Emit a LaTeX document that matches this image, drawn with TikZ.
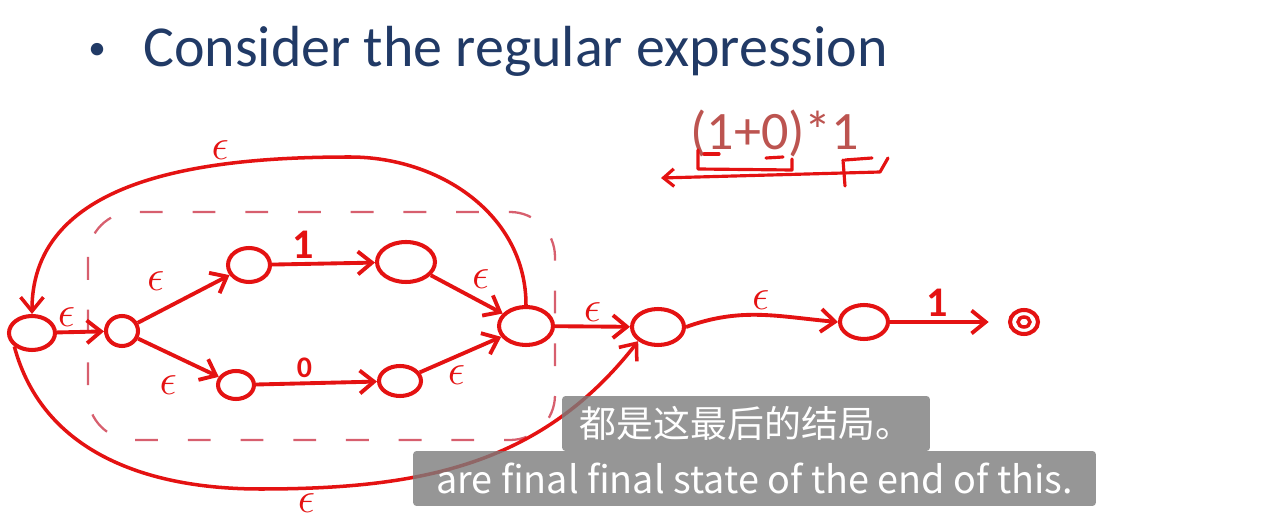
\documentclass[tikz,border=0pt]{standalone}
\usepackage{fontspec}
\setmainfont{Carlito}
\newfontfamily\cjk{Noto Sans CJK SC}
\usetikzlibrary{shapes.geometric, arrows.meta, positioning}
\definecolor{pen}{RGB}{228,18,18}
\definecolor{penlight}{RGB}{215,95,110}
\definecolor{slideblue}{RGB}{33,58,102}
\definecolor{regexred}{RGB}{188,84,80}
\definecolor{subgray}{RGB}{124,124,124}
\tikzset{
    state/.style={draw=pen, ellipse, line width=2.3pt, inner sep=0pt},
    arrow/.style={-{Straight Barb[length=8pt,width=13pt]}, line width=2.2pt, draw=pen},
    backedge/.style={arrow, line width=2pt},
    lbl/.style={text=pen, font=\fontsize{24}{24}\selectfont\bfseries, inner sep=2pt},
    dashbox/.style={draw=penlight, line width=1.3pt, dash pattern=on 13pt off 17pt, rounded corners=0.9cm},
    scribble/.style={draw=pen, line width=1.8pt, line cap=round, line join=round},
    subtitle/.style={fill=subgray, fill opacity=0.8, text opacity=1, rounded corners=2pt, text=white, inner sep=0pt}
}

\begin{document}
\begin{tikzpicture}[x=0.02cm, y=-0.02cm]
        \useasboundingbox (0,0) rectangle (1268,523);

        % Titolo della slide
        \node (bullet) [text=slideblue, font=\fontsize{20}{20}\selectfont] at (97,51) {\textbullet};
        \node (title) [anchor=base west, inner sep=0pt, text=slideblue, font=\fontsize{33}{36}\selectfont] at (143,67) {Consider the regular expression};
        \node (regex) [anchor=base west, inner sep=0pt, text=regexred, font=\fontsize{30.8}{34}\selectfont] at (690,150) {(1+0)*1};

        % Sottolineature a mano sotto l'espressione
        \draw [scribble] (704,154) -- (719,154);
        \draw [scribble] (766,158) -- (783,157);
        \draw [scribble] (698,150) -- (698,169) -- (792,170) -- (792,159);
        \draw [scribble] (843,160) -- (845,186);
        \draw [scribble] (845,160) -- (872,158);
        \draw [scribble, -{Straight Barb[length=6pt,width=10pt]}] (888,158) -- (880,172) -- (661,178);

        % Riquadro tratteggiato intorno a (1+0)*
        \draw [dashbox] (88,212) rectangle (555,440);

        % Stati
        \node (s0) [state, minimum width=0.92cm, minimum height=0.68cm] at (32,333) {};
        \node (s1) [state, minimum width=0.64cm, minimum height=0.60cm] at (122,331) {};
        \node (s2) [state, minimum width=0.84cm, minimum height=0.68cm] at (249,265) {};
        \node (s3) [state, minimum width=1.16cm, minimum height=0.80cm] at (406,262) {};
        \node (s4) [state, minimum width=0.72cm, minimum height=0.56cm] at (236,385) {};
        \node (s5) [state, minimum width=0.84cm, minimum height=0.60cm] at (400,381) {};
        \node (s6) [state, minimum width=1.08cm, minimum height=0.76cm] at (526,326) {};
        \node (s7) [state, minimum width=1.04cm, minimum height=0.72cm] at (658,327) {};
        \node (s8) [state, minimum width=0.96cm, minimum height=0.68cm] at (864,322) {};
        \node (fin) [state, minimum width=0.56cm, minimum height=0.48cm, right=2.36cm of s8] {};
        \node (fin-in) [state, minimum width=0.24cm, minimum height=0.2cm, line width=2pt] at (fin.center) {};

        % Transizioni
        \draw [arrow] (s0) -- node [lbl, above, pos=0.2] {$\epsilon$} (s1);
        \draw [arrow] (s1) -- node [lbl, above left, pos=0.35, yshift=6pt] {$\epsilon$} (s2);
        \draw [arrow] (s1) -- node [lbl, below left, pos=0.55, yshift=-6pt] {$\epsilon$} (s4);
        \draw [arrow] (s2) -- node [lbl, above, pos=0.3] {1} (s3);
        \draw [arrow] (s4) -- node [lbl, above, pos=0.4, font=\fontsize{17}{17}\selectfont\bfseries] {0} (s5);
        \draw [arrow] (s3) -- node [lbl, above right, pos=0.5] {$\epsilon$} (s6);
        \draw [arrow] (s5) -- node [lbl, below, pos=0.45, yshift=-2pt] {$\epsilon$} (s6);
        \draw [arrow] (s6) -- node [lbl, above, pos=0.5] {$\epsilon$} (s7);
        \draw [arrow] (s7.east) to [out=20, in=175] node [lbl, above] {$\epsilon$} (s8.west);
        \draw [arrow, shorten >=11pt] (s8) -- node [lbl, above, pos=0.4] {1} (fin);

        % Archi all'indietro e di salto
        \coordinate (top) at (350,157);
        \coordinate (bottom) at (260,489);
        \draw [backedge] (s6.north) to [out=90, in=0] (top) to [out=180, in=90] node [lbl, above, pos=0.3] {$\epsilon$} (s0.north);
        \draw [backedge] (s0.south west) to [out=-75, in=180] (bottom) to [out=0, in=-128] node [lbl, below, pos=0.1] {$\epsilon$} (s7.south west);

        % Sottotitoli
        \node (subzh) [subtitle, minimum width=7.36cm, minimum height=1.1cm] at (746,423.5) {\cjk\fontsize{21}{21}\selectfont 都是这最后的结局。};
        \node (suben) [subtitle, minimum width=13.66cm, minimum height=1.1cm] at (754.5,478.5) {\cjk\fontsize{21.5}{21.5}\selectfont are final final state of the end of this.};

    \end{tikzpicture}
\end{document}
